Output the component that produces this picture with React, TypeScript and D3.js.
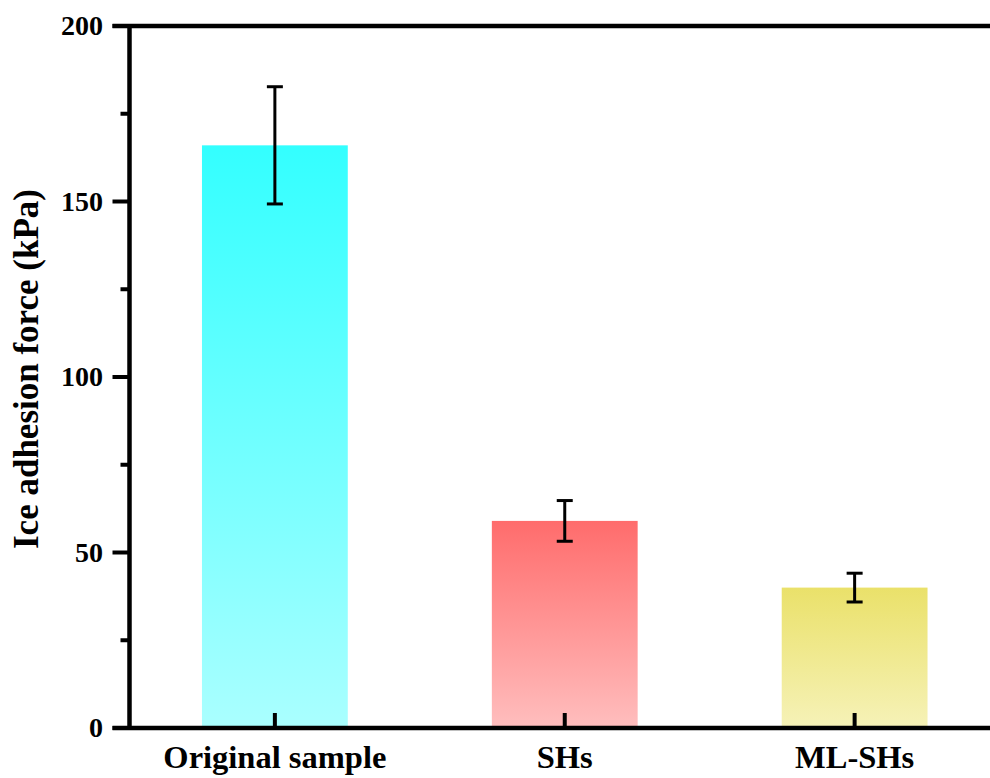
import React from "react";
import * as d3 from "d3";

// Ice adhesion force per sample (kPa), mean and standard deviation
const categories = ["Original sample", "SHs", "ML-SHs"];
const meanValues = [166, 59, 40];
const errorValues = [16.7, 5.8, 4.1];
const yTicks = [0, 50, 100, 150, 200];
const yMinorTicks = [25, 75, 125, 175];

// Vertical gradient stops for each bar: [top, bottom]
const barGradients = [
  ["#33FFFF", "#AAFFFF"],
  ["#FF6C6C", "#FFBEBE"],
  ["#EAE16A", "#F6F2B8"],
];

const W = 990;
const H = 778;
const margin = { left: 129.5, right: -10, top: 26, bottom: 50 };
const font = "Liberation Serif";

export default function App() {
  const innerBottom = H - margin.bottom;
  const y = d3.scaleLinear().domain([0, 200]).range([innerBottom, margin.top]);
  const x = d3
    .scaleBand<string>()
    .domain(categories)
    .range([margin.left, W - margin.right])
    .paddingInner(0.497)
    .paddingOuter(0.25);
  const bw = x.bandwidth();
  const axisX = margin.left;

  return (
    <svg width={W} height={H} style={{ position: "absolute", left: 0, top: 0 }}>
      <defs>
        {barGradients.map((g, i) => (
          <linearGradient key={i} id={`bar-grad-${i}`} x1="0" y1="0" x2="0" y2="1">
            <stop offset="0%" stopColor={g[0]} />
            <stop offset="100%" stopColor={g[1]} />
          </linearGradient>
        ))}
      </defs>
      <rect width={W} height={H} fill="#fff" />

      {/* bars */}
      {categories.map((c, i) => (
        <rect
          key={c}
          x={x(c)!}
          y={y(meanValues[i])}
          width={bw}
          height={innerBottom - y(meanValues[i])}
          fill={`url(#bar-grad-${i})`}
        />
      ))}

      {/* error bars */}
      {categories.map((c, i) => {
        const cx = x(c)! + bw / 2;
        const top = y(meanValues[i] + errorValues[i]);
        const bot = y(meanValues[i] - errorValues[i]);
        return (
          <g key={c} stroke="#000" strokeWidth={3}>
            <line x1={cx} x2={cx} y1={top} y2={bot} />
            <line x1={cx - 8} x2={cx + 8} y1={top} y2={top} />
            <line x1={cx - 8} x2={cx + 8} y1={bot} y2={bot} />
          </g>
        );
      })}

      {/* frame: left axis, top line, bottom axis */}
      <line x1={axisX} x2={axisX} y1={margin.top} y2={innerBottom} stroke="#000" strokeWidth={4.5} />
      <line x1={axisX - 17} x2={W} y1={margin.top} y2={margin.top} stroke="#000" strokeWidth={4.5} />
      <line x1={axisX - 17} x2={W} y1={innerBottom} y2={innerBottom} stroke="#000" strokeWidth={4.5} />

      {/* y ticks */}
      {yTicks.map((t) => (
        <g key={t}>
          <line x1={axisX - 17} x2={axisX} y1={y(t)} y2={y(t)} stroke="#000" strokeWidth={4} />
          <text x={103} y={y(t)} dy="0.33em" textAnchor="end" fontFamily={font} fontWeight="bold" fontSize={28}>
            {t}
          </text>
        </g>
      ))}
      {yMinorTicks.map((t) => (
        <line key={t} x1={axisX - 9} x2={axisX} y1={y(t)} y2={y(t)} stroke="#000" strokeWidth={4} />
      ))}

      {/* x ticks (inward) and labels */}
      {categories.map((c) => {
        const cx = x(c)! + bw / 2;
        return (
          <g key={c}>
            <line x1={cx} x2={cx} y1={innerBottom} y2={innerBottom - 15} stroke="#000" strokeWidth={4} />
            <text x={cx} y={768} textAnchor="middle" fontFamily={font} fontWeight="bold" fontSize={32.5}>
              {c}
            </text>
          </g>
        );
      })}

      {/* y axis title */}
      <text
        transform="translate(38, 369) rotate(-90)"
        textAnchor="middle"
        fontFamily={font}
        fontWeight="bold"
        fontSize={35}
      >
        Ice adhesion force (kPa)
      </text>
    </svg>
  );
}
